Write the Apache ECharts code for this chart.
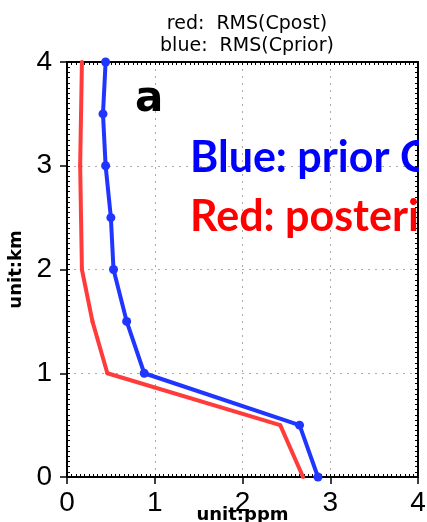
<!DOCTYPE html>
<html>
<head>
<meta charset="utf-8">
<script src="https://cdn.jsdelivr.net/npm/echarts@6/dist/echarts.min.js"></script>
<style>
  html, body { margin: 0; padding: 0; background: #fff; }
  #chart { width: 427px; height: 522px; }
</style>
</head>
<body>
<div id="chart"></div>
<script>
// heights (km) of the profile levels
const heights = [0, 0.5, 1, 1.5, 2, 2.5, 3, 3.5, 4];
// RMS values (ppm)
const priorRms = [2.86, 2.65, 0.88, 0.68, 0.53, 0.50, 0.44, 0.41, 0.44];
const postRms = [2.69, 2.43, 0.46, 0.29, 0.17, 0.16, 0.15, 0.16, 0.17];

const chart = echarts.init(document.getElementById('chart'), null, { renderer: 'canvas' });

const labelFont = { fontFamily: '"Liberation Sans Narrow", "Liberation Sans", sans-serif', fontSize: 28, color: '#000' };

function frameAxis(position, withLabels, name) {
  const isLeft = position === 'left';
  return {
    type: 'value',
    position,
    min: 0,
    max: 4,
    interval: 1,
    name: name || '',
    nameLocation: 'middle',
    nameGap: isLeft ? 42 : 29,
    nameMoveOverlap: false,
    nameTextStyle: { fontFamily: 'DejaVu Sans', fontSize: 18, fontWeight: 'bold', color: '#000' },
    axisLine: { show: true, onZero: false, lineStyle: { color: '#000', width: 2 } },
    axisTick: { show: withLabels, inside: false, length: 7, lineStyle: { color: '#000', width: 1.5 } },
    axisLabel: withLabels ? Object.assign({ show: true, margin: isLeft ? 15 : 12 }, labelFont) : { show: false },
    splitLine: withLabels
      ? { show: true, lineStyle: { color: '#aaa', type: [2, 5], width: 1 } }
      : { show: false }
  };
}

function minorAxis(position) {
  return {
    type: 'value',
    position,
    min: 0,
    max: 4,
    interval: 0.05,
    axisLine: { show: false, onZero: false },
    axisTick: { show: true, inside: true, length: 3, lineStyle: { color: '#000', width: 1 } },
    axisLabel: { show: false },
    splitLine: { show: false }
  };
}

chart.setOption({
  animation: false,
  backgroundColor: '#fff',
  title: {
    text: 'red:  RMS(Cpost)\nblue:  RMS(Cprior)',
    left: 242,
    top: 8,
    textAlign: 'center',
    textStyle: { fontFamily: 'DejaVu Sans', fontSize: 19, fontWeight: 'normal', color: '#000', lineHeight: 22 }
  },
  grid: { left: 67, top: 62, right: 9, bottom: 45, show: false, containLabel: false, outerBoundsMode: 'none' },
  xAxis: [
    frameAxis('bottom', true, 'unit:ppm'),
    frameAxis('top', false),
    minorAxis('bottom'),
    minorAxis('top')
  ],
  yAxis: [
    frameAxis('left', true, 'unit:km'),
    frameAxis('right', false),
    minorAxis('left'),
    minorAxis('right')
  ],
  graphic: [
    {
      type: 'text', left: 135, top: 79, z: 10,
      style: { text: 'a', fontFamily: 'DejaVu Sans', fontWeight: 'bold', fontSize: 42, fill: '#000' }
    },
    {
      type: 'text', left: 190, top: 137, z: 10,
      style: { text: 'Blue: prior CO2', fontFamily: 'Lato', fontWeight: 'bold', fontSize: 43, fill: '#0000ff' }
    },
    {
      type: 'text', left: 190, top: 196, z: 10,
      style: { text: 'Red: posterior CO2', fontFamily: 'Lato', fontWeight: 'bold', fontSize: 43, fill: '#ff0000' }
    },
    {
      // the annotation is cut at the right edge of the frame
      type: 'rect', left: 419, top: 130, z: 11,
      shape: { width: 8, height: 120 },
      style: { fill: '#fff' }
    }
  ],
  series: [
    {
      type: 'line',
      data: heights.map((h, i) => [postRms[i], h]),
      symbol: 'circle',
      symbolSize: 4,
      showSymbol: true,
      lineStyle: { color: '#ff3b3b', width: 4 },
      itemStyle: { color: '#ff3b3b' },
      z: 3
    },
    {
      type: 'line',
      data: heights.map((h, i) => [priorRms[i], h]),
      symbol: 'circle',
      symbolSize: 9,
      lineStyle: { color: '#2035ff', width: 4 },
      itemStyle: { color: '#2035ff' },
      z: 4
    }
  ]
});
</script>
</body>
</html>
